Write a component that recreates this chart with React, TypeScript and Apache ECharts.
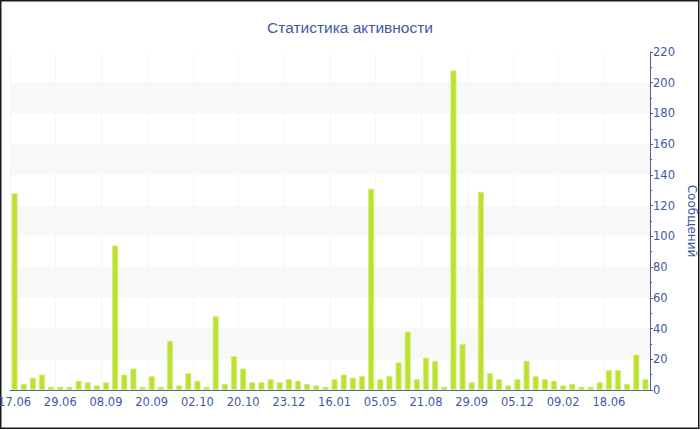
import React, { useEffect, useRef } from "react";
import * as echarts from "echarts";

const titleText = "Статистика активности";
const yAxisName = "Сообщений";
const tickLabels = ["17.06", "29.06", "08.09", "20.09", "02.10", "20.10", "23.12", "16.01", "05.05", "21.08", "29.09", "05.12", "09.02", "18.06"];
const messages = [
  128, 4, 8, 10, 2, 2, 2, 6, 5, 3,
  5, 94, 10, 14, 2, 9, 2, 32, 3, 11,
  6, 2, 48, 4, 22, 14, 5, 5, 7, 5,
  7, 6, 4, 3, 2, 7, 10, 8, 9, 131,
  7, 9, 18, 38, 7, 21, 19, 2, 208, 30,
  5, 129, 11, 7, 3, 7, 19, 9, 7, 6,
  3, 4, 2, 2, 5, 13, 13, 4, 23, 7,
];
const categories = messages.map((_, i) => (i % 5 === 0 ? tickLabels[i / 5] : ""));

const blue = "#3f5aa3";
const axisBlue = "#4d5f9e";
const font = "DejaVu Sans";

export default function App() {
  const ref = useRef<HTMLDivElement>(null);
  useEffect(() => {
    document.body.style.margin = "0";
    const chart = echarts.init(ref.current!, null, { renderer: "svg" });
    chart.setOption({
      animation: false,
      backgroundColor: "#fff",
      title: {
        text: titleText,
        left: "center",
        top: 14,
        textStyle: { color: blue, fontSize: 15.5, fontWeight: "normal", fontFamily: "Liberation Sans" },
      },
      grid: { left: 10, right: 50, top: 52, bottom: 40, outerBoundsMode: "none", containLabel: false },
      xAxis: {
        type: "category",
        data: categories,
        axisLine: { lineStyle: { color: axisBlue, width: 1 } },
        axisTick: { alignWithLabel: true, interval: 4, length: 3, lineStyle: { color: axisBlue } },
        axisLabel: { interval: 4, color: blue, fontSize: 11.5, fontFamily: font, margin: 6 },
        splitLine: { show: true, interval: 4, lineStyle: { color: "#f6f6f6", width: 1 } },
      },
      yAxis: {
        type: "value",
        position: "right",
        min: 0,
        max: 220,
        interval: 20,
        name: yAxisName,
        nameLocation: "middle",
        nameRotate: -90,
        nameGap: 32,
        nameTextStyle: { color: blue, fontSize: 12, fontFamily: font },
        axisLine: { show: true, lineStyle: { color: axisBlue } },
        axisTick: { show: true, length: 3, lineStyle: { color: axisBlue } },
        minorTick: { show: true, splitNumber: 2, length: 2, lineStyle: { color: axisBlue } },
        axisLabel: { color: blue, fontSize: 11.5, fontFamily: font, margin: 3 },
        splitLine: { show: false },
        splitArea: { show: true, areaStyle: { color: ["rgba(255,255,255,0)", "#f8f8f8"] } },
      },
      series: [
        {
          type: "bar",
          data: messages,
          barWidth: 6,
          itemStyle: { color: "#bde12f", borderColor: "#d3ec80", borderWidth: 0.8 },
        },
      ],
      graphic: [
        {
          type: "rect",
          shape: { x: 0.75, y: 0.75, width: 698, height: 427.5 },
          style: { fill: "none", stroke: "#1a1a1a", lineWidth: 1.5 },
          silent: true,
        },
      ],
    });
    return () => chart.dispose();
  }, []);
  return <div ref={ref} style={{ position: "absolute", left: 0, top: 0, width: 700, height: 430 }} />;
}
